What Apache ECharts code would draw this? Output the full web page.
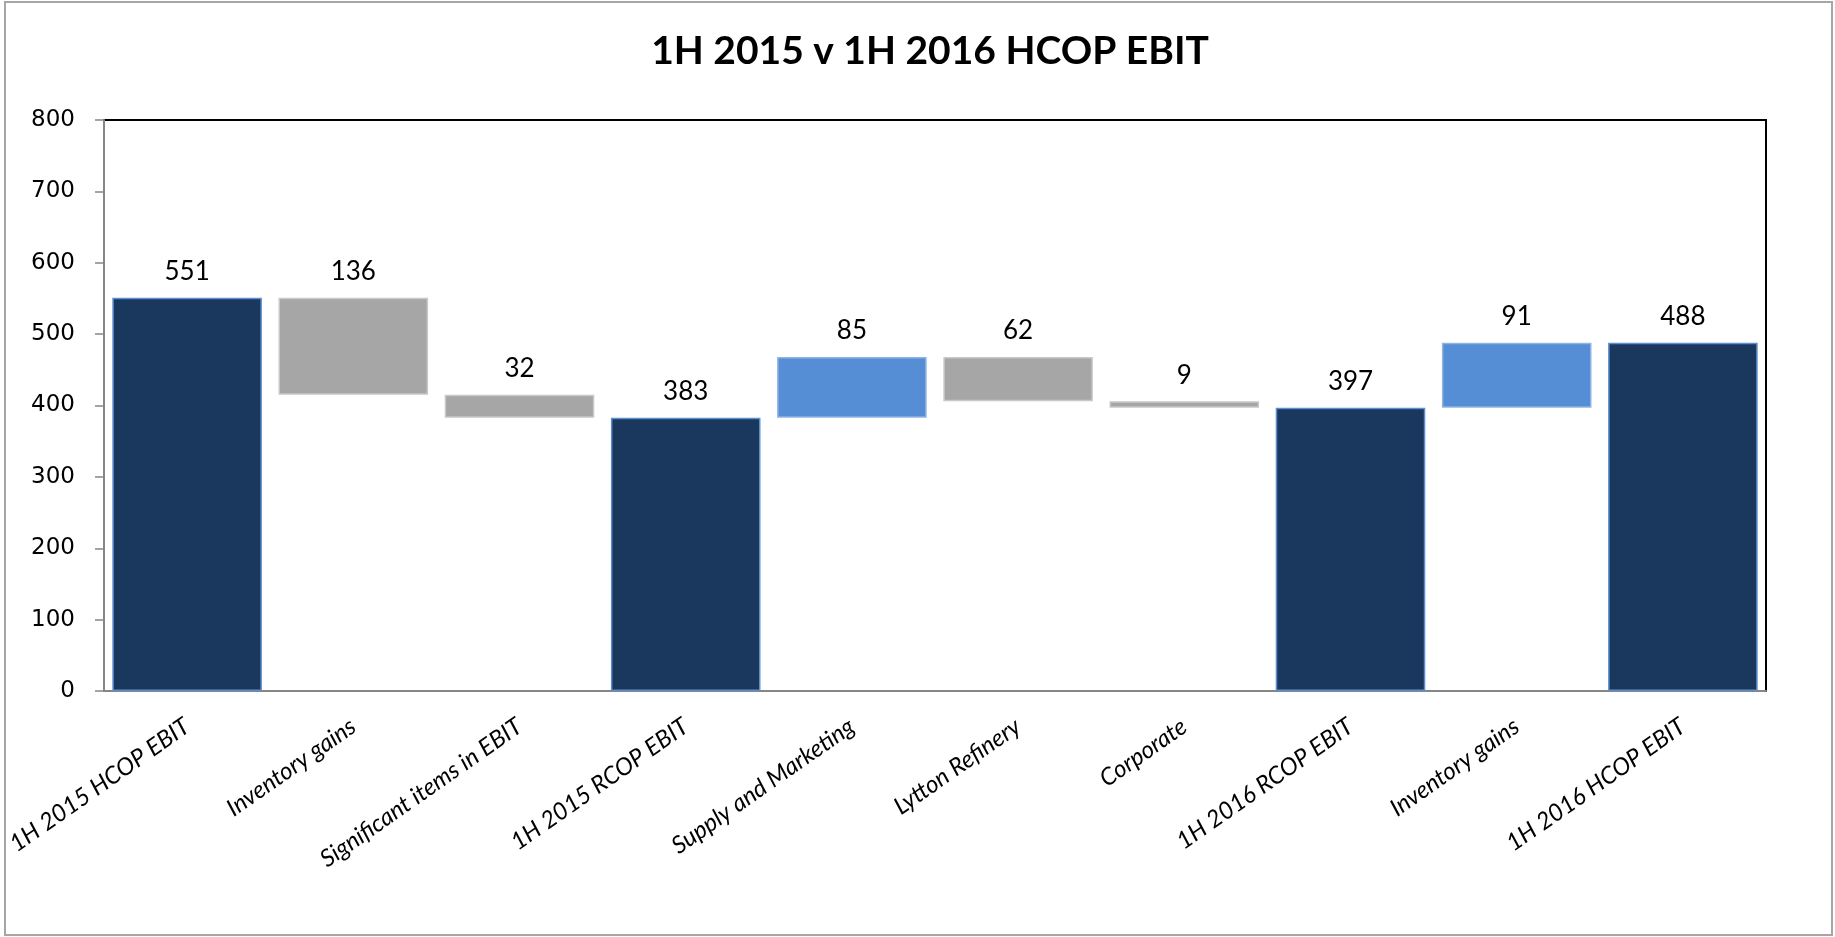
<!DOCTYPE html>
<html>
<head>
<meta charset="utf-8">
<title>1H 2015 v 1H 2016 HCOP EBIT</title>
<script src="https://cdn.jsdelivr.net/npm/echarts@6/dist/echarts.min.js"></script>
<style>
  html, body { margin: 0; padding: 0; background: #fff; }
  #main { width: 1835px; height: 937px; }
</style>
</head>
<body>
<div id="main"></div>
<script>
const categories = [
  '1H 2015 HCOP EBIT', 'Inventory gains', 'Significant items in EBIT', '1H 2015 RCOP EBIT',
  'Supply and Marketing', 'Lytton Refinery', 'Corporate', '1H 2016 RCOP EBIT',
  'Inventory gains', '1H 2016 HCOP EBIT'
]
// totals are absolute, the rest are movements
const values = [551, -136, -32, 383, 85, -62, -9, 397, 91, 488]
const isTotal = [true, false, false, true, false, false, false, true, false, true]
const yTicks = [0, 100, 200, 300, 400, 500, 600, 700, 800]

const colors = { total: '#1a375e', up: '#558ed5', down: '#a6a6a6' }
const borders = { total: '#5b8fd0', up: '#8fb4e3', down: '#c8c8c8' }

// stack a transparent base under each visible bar
const base = []
const shown = []
let running = 0
values.forEach((v, i) => {
  let kind
  if (isTotal[i]) {
    base.push(0); running = v; kind = 'total'
  } else if (v >= 0) {
    base.push(running); running += v; kind = 'up'
  } else {
    running += v; base.push(running); kind = 'down'
  }
  shown.push({
    value: Math.abs(v),
    itemStyle: { color: colors[kind], borderColor: borders[kind], borderWidth: 1.5 }
  })
})

const chart = echarts.init(document.getElementById('main'))
chart.setOption({
  animation: false,
  backgroundColor: '#fff',
  title: {
    text: '1H 2015 v 1H 2016 HCOP EBIT',
    left: 925, top: 27, textAlign: 'center',
    textStyle: { fontFamily: 'Lato', fontWeight: 'bold', fontSize: 39, color: '#000' }
  },
  graphic: [{
    type: 'rect', silent: true,
    shape: { x: 5, y: 2, width: 1827, height: 933 },
    style: { fill: 'none', stroke: '#a6a6a6', lineWidth: 2 }
  }],
  grid: {
    left: 104, right: 69, top: 120, bottom: 246,
    show: true, borderColor: '#000', borderWidth: 2, backgroundColor: 'transparent'
  },
  xAxis: {
    type: 'category',
    data: categories,
    axisLine: { lineStyle: { color: '#868686', width: 2 } },
    axisTick: { show: false },
    axisLabel: {
      interval: 0, rotate: 35, margin: 33,
      fontFamily: 'Lato', fontStyle: 'italic', fontSize: 24, color: '#000'
    }
  },
  yAxis: {
    type: 'value',
    min: yTicks[0], max: yTicks[yTicks.length - 1], interval: 100,
    splitLine: { show: false },
    axisLine: { show: true, lineStyle: { color: '#868686', width: 2 } },
    axisTick: { show: true, length: 9, lineStyle: { color: '#868686', width: 1.5 } },
    axisLabel: { margin: 29, fontFamily: 'DejaVu Sans', fontSize: 23, color: '#000' }
  },
  series: [
    {
      type: 'bar', stack: 'wf', data: base, silent: true,
      itemStyle: { color: 'transparent', borderColor: 'transparent' },
      barCategoryGap: '10%'
    },
    {
      type: 'bar', stack: 'wf', data: shown,
      barCategoryGap: '10%',
      label: {
        show: true, position: 'top', distance: 13,
        fontFamily: 'Lato', fontSize: 26, color: '#000'
      }
    }
  ]
})
</script>
</body>
</html>
